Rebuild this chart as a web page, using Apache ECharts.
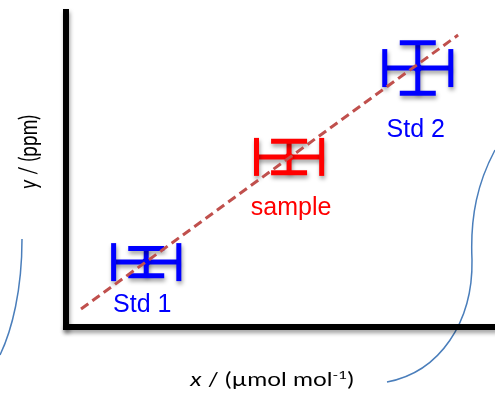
<!DOCTYPE html>
<html>
<head>
<meta charset="utf-8">
<script src="https://cdn.jsdelivr.net/npm/echarts@6/dist/echarts.min.js"></script>
<style>
  html, body { margin: 0; padding: 0; background: #fff; }
  #chart { width: 495px; height: 395px; }
</style>
</head>
<body>
<div id="chart"></div>
<script>
// Calibration points: two standards bracketing one sample, each with x and y uncertainty
const pointNames = ['Std 1', 'sample', 'Std 2'];
const xValues = [1.87, 5.2, 8.2];
const yValues = [2.06, 5.4, 8.22];
const xErrors = [0.76, 0.76, 0.77];
const yErrors = [0.43, 0.5, 0.8];

// Straight calibration line drawn through the standards
const fitX = [0.35, 9.14];
const fitY = [0.57, 9.27];

// Axis titles (rich-text markup: italic variable, superscript exponent)
const xTitle = '{i|x}{n| / (\u00b5mol mol}{s|-1}{n|)}';
const yTitle = '{i|y}{n| / (ppm)}';

// Styling
const pointColors = ['#0000FF', '#FF0000', '#0000FF'];
const labelDy = [43, 51, 62];
const labelDx = [-4, 2, -2];
const wide = 1.28; // horizontal stretch of the axis-title lettering
const shadow = { shadowColor: 'rgba(0,0,0,0.38)', shadowBlur: 4, shadowOffsetX: 1, shadowOffsetY: 3 };

const chart = echarts.init(document.getElementById('chart'), null, { renderer: 'canvas' });

function renderCross(params, api) {
  const i = params.dataIndex;
  const c = api.coord([api.value(0), api.value(1)]);
  const ex = api.size([api.value(2), 0])[0];
  const ey = api.size([0, api.value(3)])[1];
  const color = pointColors[i];
  const st = Object.assign({ stroke: color, lineWidth: 5 }, shadow);
  const capX = 19, capY = 18;
  const seg = (x1, y1, x2, y2) => ({ type: 'line', shape: { x1, y1, x2, y2 }, style: st });
  return {
    type: 'group',
    children: [
      seg(c[0] - ex, c[1], c[0] + ex, c[1]),
      seg(c[0] - ex, c[1] - capX, c[0] - ex, c[1] + capX),
      seg(c[0] + ex, c[1] - capX, c[0] + ex, c[1] + capX),
      seg(c[0], c[1] - ey, c[0], c[1] + ey),
      seg(c[0] - capY, c[1] - ey, c[0] + capY, c[1] - ey),
      seg(c[0] - capY, c[1] + ey, c[0] + capY, c[1] + ey),
      { type: 'circle', shape: { cx: c[0], cy: c[1], r: 4 }, style: { fill: color } },
      {
        type: 'text',
        x: c[0] + labelDx[i],
        y: c[1] + labelDy[i],
        style: {
          text: pointNames[i],
          fill: color,
          fontSize: 25,
          fontFamily: '"Liberation Sans", Arial, sans-serif',
          align: 'center',
          verticalAlign: 'middle'
        }
      }
    ]
  };
}

const axisLineStyle = Object.assign({ color: '#000', width: 6, cap: 'square' }, shadow);
const calloutStyle = { stroke: '#4A7EBB', lineWidth: 1.5, fill: null };
const titleRich = {
  i: { fontFamily: 'Lato', fontSize: 19, fontStyle: 'italic', fill: '#000', lineHeight: 22 },
  n: { fontFamily: 'Lato', fontSize: 19, fill: '#000', lineHeight: 22 },
  s: { fontFamily: 'Lato', fontSize: 12, fill: '#000', lineHeight: 22, verticalAlign: 'top', padding: [0, 0, 8, 0] }
};

chart.setOption({
  animation: false,
  backgroundColor: '#fff',
  grid: { left: 66, right: 0, top: 12, bottom: 68, containLabel: false },
  xAxis: {
    type: 'value', min: 0, max: 10,
    axisLine: { show: true, onZero: false, lineStyle: axisLineStyle },
    axisTick: { show: false }, axisLabel: { show: false }, splitLine: { show: false }
  },
  yAxis: {
    type: 'value', min: 0, max: 10,
    axisLine: { show: true, onZero: false, lineStyle: axisLineStyle },
    axisTick: { show: false }, axisLabel: { show: false }, splitLine: { show: false }
  },
  series: [
    {
      type: 'custom',
      renderItem: renderCross,
      encode: { x: 0, y: 1 },
      data: xValues.map((x, i) => [x, yValues[i], xErrors[i], yErrors[i]]),
      z: 2
    },
    {
      type: 'line',
      data: fitX.map((x, i) => [x, fitY[i]]),
      symbol: 'none',
      lineStyle: { color: '#C0504D', width: 3, type: [9, 5] },
      z: 5
    }
  ],
  graphic: [
    {
      type: 'text',
      x: 272, y: 380,
      scaleX: wide,
      style: { text: xTitle, rich: titleRich, align: 'center', verticalAlign: 'middle' }
    },
    {
      type: 'text',
      x: 29, y: 152,
      rotation: Math.PI / 2,
      scaleY: wide,
      style: { text: yTitle, rich: titleRich, align: 'center', verticalAlign: 'middle' }
    },
    {
      type: 'bezierCurve',
      shape: { x1: 22, y1: 239, cpx1: 22, cpy1: 290, cpx2: 12, cpy2: 330, x2: 0, y2: 355 },
      style: calloutStyle
    },
    {
      type: 'bezierCurve',
      shape: { x1: 495, y1: 150, cpx1: 478, cpy1: 182, cpx2: 470, cpy2: 215, x2: 472, y2: 260 },
      style: calloutStyle
    },
    {
      type: 'bezierCurve',
      shape: { x1: 472, y1: 260, cpx1: 473, cpy1: 322, cpx2: 440, cpy2: 372, x2: 387, y2: 382 },
      style: calloutStyle
    }
  ]
});
</script>
</body>
</html>
